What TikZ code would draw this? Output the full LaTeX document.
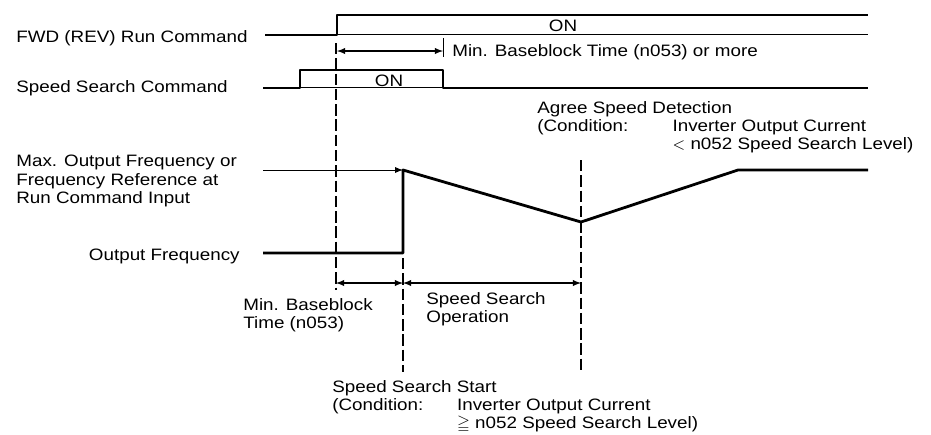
\documentclass[tikz,border=0pt]{standalone}
\usepackage{fontspec}
\usepackage{amssymb}
\setmainfont{Liberation Sans}[FakeStretch=1.14]
\usetikzlibrary{positioning}

\begin{document}
\begin{tikzpicture}[x=0.02cm,y=-0.02cm,>=latex,
  txt/.style={inner sep=0pt,font=\fontsize{9.4}{10.4}\selectfont,align=left},
  wave/.style={line width=1.6pt,line join=round},
  refline/.style={line width=0.55pt},
  guide/.style={line width=0.8pt,dash pattern=on 6.5pt off 2.2pt},
  dim/.style={line width=0.6pt,latex-latex}]

  \useasboundingbox (0,0) rectangle (931,434);

  % signal names
  \node[txt,anchor=base west] (fwdlbl) at (16,42.5) {FWD (REV) Run Command};
  \node[txt,anchor=base west] (ssclbl) at (16,92.5) {Speed Search Command};
  \node[txt,anchor=north west] (maxlbl) at (16,155) {Max. Output Frequency or\\Frequency Reference at\\Run Command Input};
  \node[txt,anchor=base east] (outlbl) at (240,260) {Output Frequency};

  % run command
  \coordinate (fwdlow) at (265,35);
  \coordinate (fwdup) at (337,35);
  \draw[wave] (fwdlow) -- (fwdup) -- (337,15) -- (868,15);
  \draw[refline] (337,34) -- (868,34);
  \node[txt,anchor=base] (fwdon) at (563,31.5) {ON};

  % speed search command
  \draw[wave] (263,88) -- (300,88) -- (300,70) -- (443,70) -- (443,88) -- (868,88);
  \draw[refline] (300,87) -- (443,87);
  \node[txt,anchor=base] (sscon) at (389,86) {ON};

  % baseblock time
  \coordinate (bbL) at (337,51);
  \coordinate (bbR) at (443,51);
  \draw[refline] (443,38) -- (443,57);
  \draw[dim] (bbL) -- (bbR);
  \node[txt,anchor=base west] (bblbl) at (452,56.5) {Min. Baseblock Time (n053) or more};

  % frequency
  \draw[refline,-latex] (263,170) -- (403,170);
  \draw[wave] (263,253) -- (403,253) -- (403,170) -- (581,222) -- (738,170) -- (868,170);

  % guide lines
  \draw[guide] (336,43) -- (336,290);
  \draw[guide] (403,258) -- (403,372);
  \draw[guide] (581,160) -- (581,372);

  % search timing
  \coordinate (ssL) at (336,283);
  \coordinate (ssM) at (403,283);
  \coordinate (ssR) at (581,283);
  \draw[dim] (ssL) -- (ssM);
  \draw[dim] (ssM) -- (ssR);

  \node[txt,anchor=north west] (minbb) at (243,298) {Min. Baseblock\\Time (n053)};
  \node[txt,anchor=north west] (ssop) at (426,292) {Speed Search\\Operation};
  \node[txt,anchor=north west] (agree) at (537,101) {Agree Speed Detection\\\makebox[77pt][l]{(Condition:}Inverter Output Current\\\hspace*{77pt}$<$ n052 Speed Search Level)};
  \node[txt,anchor=north west] (ssstart) at (332,380) {Speed Search Start\\\makebox[71pt][l]{(Condition:}Inverter Output Current\\\hspace*{71pt}$\geqq$ n052 Speed Search Level)};
\end{tikzpicture}
\end{document}
